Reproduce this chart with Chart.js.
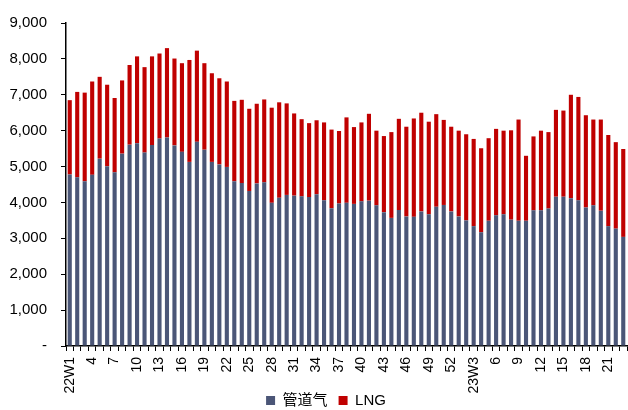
<!DOCTYPE html>
<html>
<head>
<meta charset="utf-8">
<script src="https://cdn.jsdelivr.net/npm/chart.js@4/dist/chart.umd.min.js"></script>
<style>
html,body{margin:0;padding:0;background:#fff;}
#wrap{width:628px;height:410px;position:relative;}
</style>
</head>
<body>
<div id="wrap"><canvas id="c"></canvas></div>
<script>
const weeks = ['22W1','2','3','4','5','6','7','8','9','10','11','12','13','14','15','16','17','18','19','20','21','22','23','24','25','26','27','28','29','30','31','32','33','34','35','36','37','38','39','40','41','42','43','44','45','46','47','48','49','50','51','52','23W1','23W2','23W3','4','5','6','7','8','9','10','11','12','13','14','15','16','17','18','19','20','21','22','23'];
const pipeline = [4780,4700,4590,4770,5220,5010,4840,5360,5610,5650,5390,5600,5780,5810,5590,5410,5130,5690,5470,5130,5060,4990,4590,4540,4320,4530,4560,3990,4130,4210,4190,4170,4150,4230,4060,3840,3970,3990,3960,4030,4050,3920,3730,3570,3790,3610,3600,3750,3670,3880,3930,3750,3610,3500,3340,3170,3490,3640,3670,3520,3490,3490,3780,3780,3830,4160,4160,4120,4060,3860,3920,3770,3340,3270,3040];
const lng = [2070,2380,2470,2600,2280,2270,2070,2040,2220,2420,2380,2470,2370,2490,2420,2470,2840,2540,2410,2470,2400,2380,2240,2320,2290,2220,2310,2650,2660,2550,2290,2150,2060,2060,2170,2190,2020,2380,2140,2200,2420,2080,2120,2390,2540,2500,2740,2750,2580,2580,2370,2360,2390,2400,2430,2340,2300,2410,2330,2490,2820,1810,2060,2220,2130,2420,2400,2880,2880,2570,2390,2540,2540,2410,2450];
const yTicks = [0,1000,2000,3000,4000,5000,6000,7000,8000,9000];

const fontFam = "'Liberation Sans', Arial, 'Noto Sans CJK SC', sans-serif";

const layoutFix = {
  id: 'layoutFix',
  afterLayout(chart) {
    const x = chart.scales.x;
    x.bottom = chart.height;
    const lg = chart.legend;
    if (lg) { lg.left += 8; lg.right += 8; }
  }
};

new Chart(document.getElementById('c'), {
  type: 'bar',
  data: {
    labels: weeks,
    datasets: [
      {label: '管道气', data: pipeline, backgroundColor: '#4b5677', barPercentage: 0.55, categoryPercentage: 1.0},
      {label: 'LNG', data: lng, backgroundColor: '#c00000', barPercentage: 0.55, categoryPercentage: 1.0}
    ]
  },
  plugins: [layoutFix],
  options: {
    responsive: true,
    maintainAspectRatio: false,
    animation: false,
    layout: {padding: {top: 18, right: 1, left: 9, bottom: 0}},
    plugins: {
      legend: {
        position: 'bottom',
        maxHeight: 28,
        labels: {
          boxWidth: 9, boxHeight: 9, padding: 11,
          color: '#000',
          font: {family: fontFam, size: 15}
        }
      },
      tooltip: {enabled: false}
    },
    scales: {
      x: {
        stacked: true,
        afterFit: function(s) { s.paddingLeft = 0; s.paddingRight = 0; s.height = 36; },
        grid: {display: true, drawOnChartArea: false, drawTicks: true, tickLength: 5, color: '#000', offset: true},
        border: {display: true, color: '#000', width: 1.5},
        ticks: {
          autoSkip: false, maxRotation: 90, minRotation: 90, padding: 6,
          color: '#000',
          font: {family: fontFam, size: 14},
          callback: function(v, i) { return i % 3 === 0 ? weeks[i] : ''; }
        }
      },
      y: {
        stacked: true,
        min: 0, max: 9000,
        afterBuildTicks: function(axis) { axis.ticks = yTicks.map(v => ({value: v})); },
        afterFit: function(s) { s.width = 57; },
        grid: {display: true, drawOnChartArea: false, drawTicks: true, tickLength: 5, color: '#000'},
        border: {display: true, color: '#000', width: 1.5},
        ticks: {
          padding: 14,
          color: '#000',
          font: {family: fontFam, size: 15},
          callback: function(v) { return v === 0 ? '-' : v.toLocaleString('en-US'); }
        }
      }
    }
  }
});
</script>
</body>
</html>
